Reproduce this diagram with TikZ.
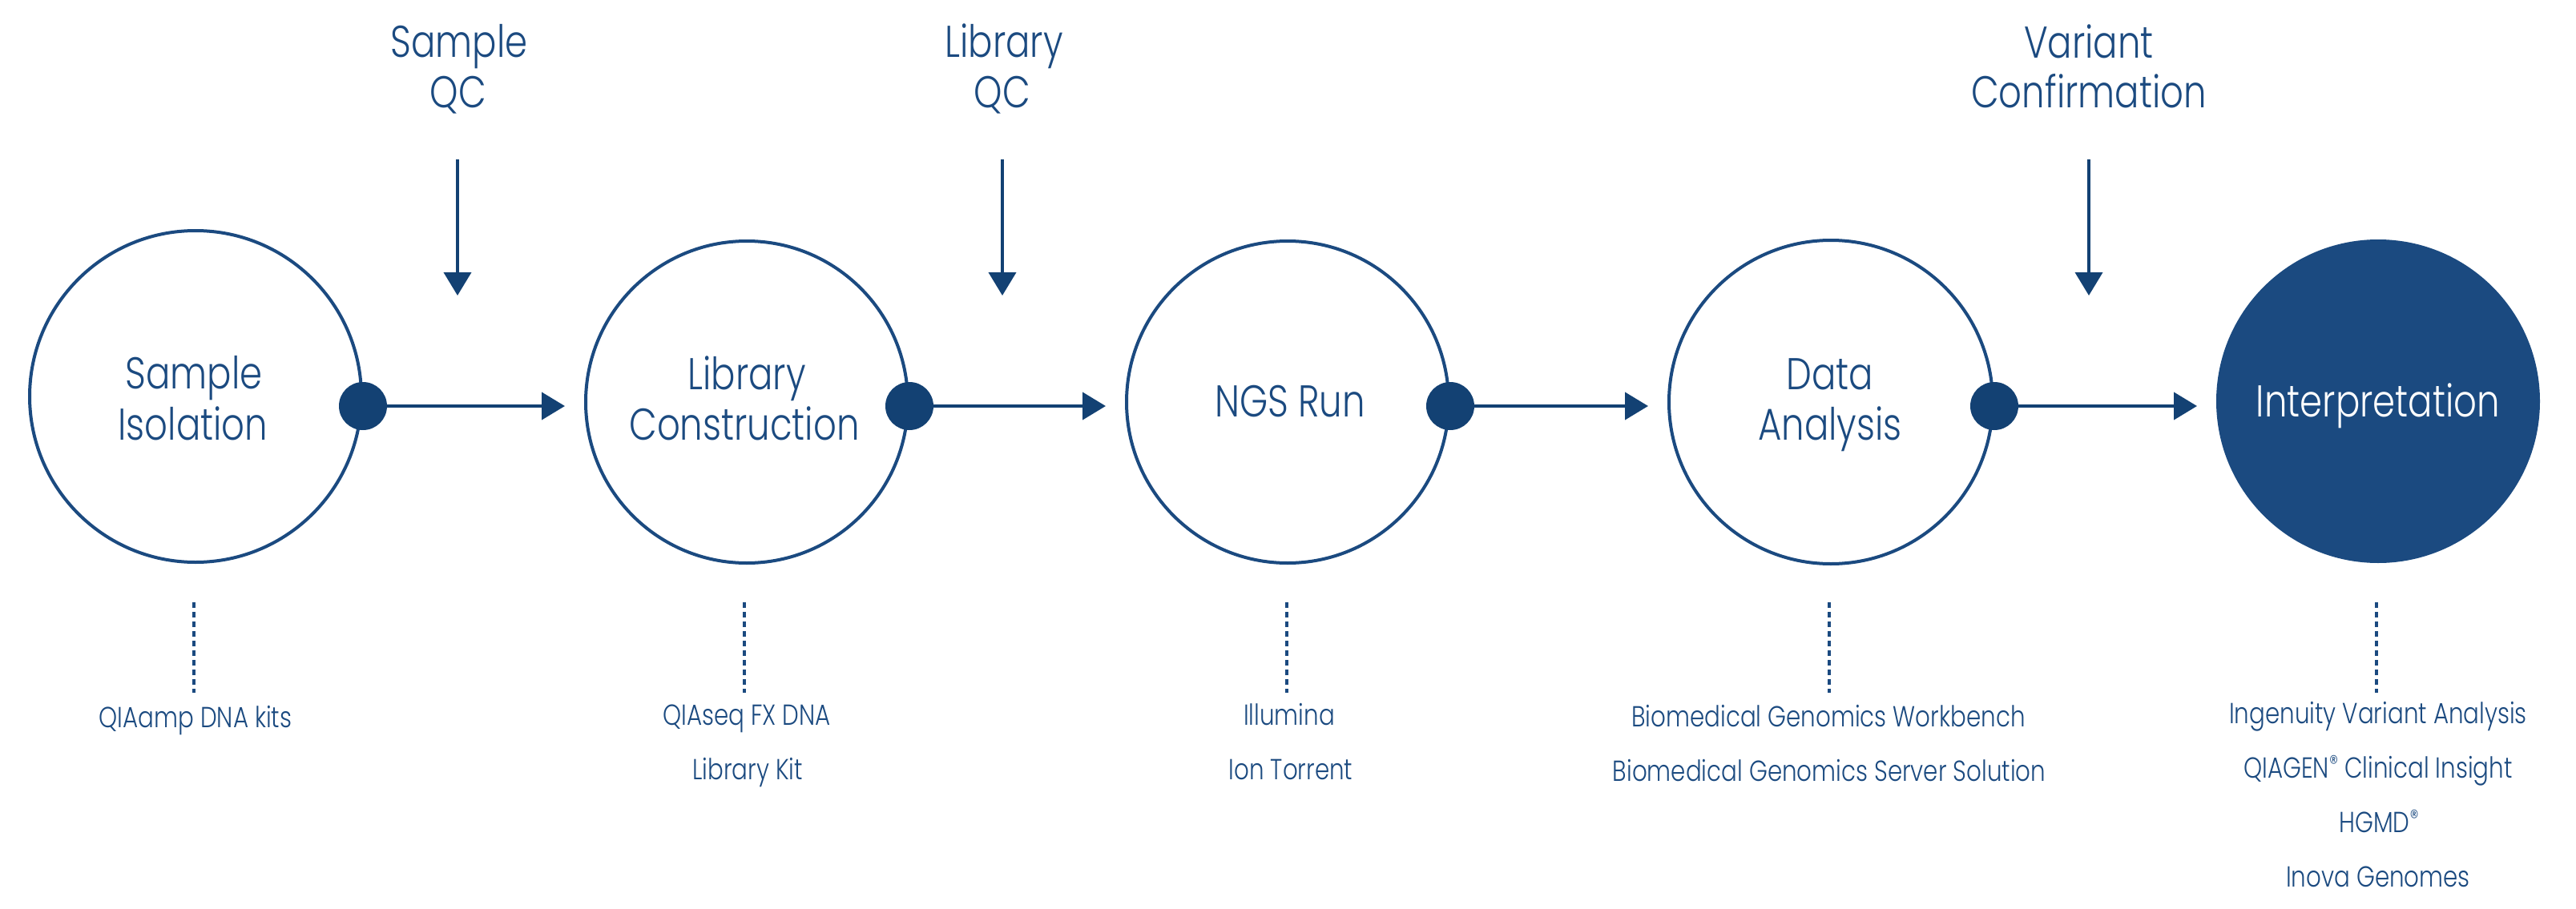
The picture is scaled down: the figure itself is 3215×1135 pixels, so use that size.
\documentclass[tikz,border=0pt]{standalone}
\usepackage{fontspec}
\setmainfont{Poppins}[UprightFont=* Light, FakeStretch=0.81]
\usetikzlibrary{arrows.meta}
\definecolor{qblue}{RGB}{27,74,128}
\definecolor{qdark}{RGB}{19,65,115}
\begin{document}
\begin{tikzpicture}[x=0.25pt,y=-0.25pt,
  stage/.style={circle,draw=qblue,line width=1pt,minimum size=#1,inner sep=0pt},
  dot/.style={circle,fill=qdark,minimum size=15pt,inner sep=0pt},
  harrow/.style={draw=qdark,line width=1pt,shorten >=6pt,-{Triangle[length=7.25pt,width=8.5pt]}},
  varrow/.style={draw=qdark,line width=1pt,-{Triangle[length=7.25pt,width=8.5pt]}},
  dline/.style={draw=qblue,line width=0.9pt,dash pattern=on 1.75pt off 1.25pt},
  big/.style={anchor=base,text=qblue,inner sep=0pt,font=\fontsize{13.9}{16}\selectfont},
  small/.style={anchor=base,text=qblue,inner sep=0pt,font=\fontsize{9.05}{11}\selectfont}]
\useasboundingbox (0,0) rectangle (3215,1135);

% stages
\node[stage=103.5pt] (c1) at (244,495) {};
\node[stage=100.5pt] (c2) at (932,502) {};
\node[stage=100.5pt] (c3) at (1607,502) {};
\node[stage=101pt] (c4) at (2285,502) {};
\node[stage=100pt,fill=qblue] (c5) at (2968,501) {};

% stage texts
\node[big] (t1a) at (242,485) {Sample};
\node[big] (t1b) at (241,549) {Isolation};
\node[big] (t2a) at (932,486) {Library};
\node[big] (t2b) at (929,549) {Construction};
\node[big] (t3) at (1610,520) {NGS Run};
\node[big] (t4a) at (2284,486) {Data};
\node[big] (t4b) at (2284,549) {Analysis};
\node[big,text=white] (t5) at (2968,520) {Interpretation};

% dots on the stages
\node[dot] (d1) at (c1.east |- 0,507) {};
\node[dot] (d2) at (c2.east |- 0,507) {};
\node[dot] (d3) at (c3.east |- 0,507) {};
\node[dot] (d4) at (c4.east |- 0,507) {};

% horizontal arrows
\draw[harrow] (d1.center) -- (d1.center -| c2.west);
\draw[harrow] (d2.center) -- (d2.center -| c3.west);
\draw[harrow] (d3.center) -- (d3.center -| c4.west);
\draw[harrow] (d4.center) -- (d4.center -| c5.west);

% QC labels
\node[big] (q1a) at (573,71) {Sample};
\node[big] (q1b) at (572,134) {QC};
\node[big] (q2a) at (1253,71) {Library};
\node[big] (q2b) at (1251,134) {QC};
\node[big] (q3a) at (2607,72) {Variant};
\node[big] (q3b) at (2607,134) {Confirmation};

% vertical arrows
\coordinate (v1s) at (571,199); \coordinate (v1e) at (571,369);
\coordinate (v2s) at (1251,199); \coordinate (v2e) at (1251,369);
\coordinate (v3s) at (2607,199); \coordinate (v3e) at (2607,369);
\draw[varrow] (v1s) -- (v1e);
\draw[varrow] (v2s) -- (v2e);
\draw[varrow] (v3s) -- (v3e);

% dashed lines
\coordinate (l1s) at (242,752); \coordinate (l1e) at (242,865);
\coordinate (l2s) at (929,752); \coordinate (l2e) at (929,865);
\coordinate (l3s) at (1606,752); \coordinate (l3e) at (1606,865);
\coordinate (l4s) at (2283,752); \coordinate (l4e) at (2283,865);
\coordinate (l5s) at (2966,752); \coordinate (l5e) at (2966,865);
\draw[dline] (l1s) -- (l1e);
\draw[dline] (l2s) -- (l2e);
\draw[dline] (l3s) -- (l3e);
\draw[dline] (l4s) -- (l4e);
\draw[dline] (l5s) -- (l5e);

% product labels
\node[small] (p1) at (244,908) {QIAamp DNA kits};
\node[small] (p2a) at (932,905) {QIAseq FX DNA};
\node[small] (p2b) at (933,973) {Library Kit};
\node[small] (p3a) at (1609,905) {Illumina};
\node[small] (p3b) at (1611,973) {Ion Torrent};
\node[small] (p4a) at (2282,907) {Biomedical Genomics Workbench};
\node[small] (p4b) at (2283,975) {Biomedical Genomics Server Solution};
\node[small] (p5a) at (2968,903) {Ingenuity Variant Analysis};
\node[small] (p5b) at (2968,971) {QIAGEN\raisebox{0.45ex}{\fontsize{6.8}{7}\selectfont ®} Clinical Insight};
\node[small] (p5c) at (2969,1039) {HGMD\raisebox{0.45ex}{\fontsize{6.8}{7}\selectfont ®}};
\node[small] (p5d) at (2968,1107) {Inova Genomes};
\end{tikzpicture}
\end{document}
